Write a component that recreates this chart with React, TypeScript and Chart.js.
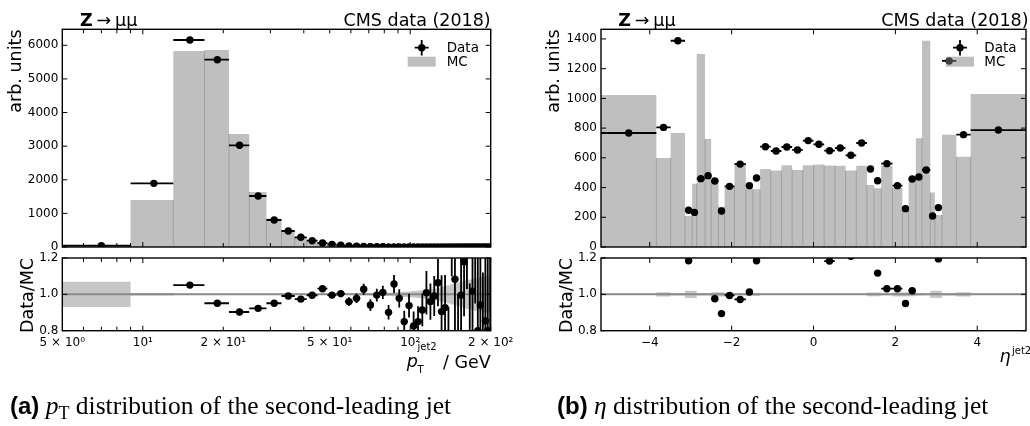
import React, { useEffect, useRef } from "react";
import { Chart, registerables } from "chart.js";

Chart.register(...registerables);

const PAGE_W = 1030;
const PAGE_H = 426;
const FONT = "DejaVu Sans";

// ---------------- (a) pT of the second-leading jet ----------------
const PT_EDGES = [5, 9, 13, 17, 21, 25, 29, 33, 37, 41, 45, 49, 53, 57, 61, 65, 69, 73, 77, 81, 85, 89, 93, 97, 101, 105, 109, 113, 117, 121, 125, 129, 133, 137, 141, 145, 149, 153, 157, 161, 165, 169, 173, 177, 181, 185, 189, 193, 197, 201];
const PT_DATA = [39, 1894, 6157, 5572, 3025, 1517, 803, 476, 288, 188, 119, 79, 50, 34, 24, 17.5, 12.5, 9.2, 6.8, 5.0, 3.8, 2.9, 2.2, 1.7, 1.35, 1.05, 0.85, 0.68, 0.55, 0.45, 0.37, 0.3, 0.25, 0.21, 0.18, 0.15, 0.13, 0.11, 0.095, 0.08, 0.07, 0.06, 0.05, 0.045, 0.04, 0.035, 0.03, 0.027, 0.024];
const PT_MC = [28, 1398, 5830, 5860, 3361, 1636, 844, 480, 296, 189, 115, 79, 50, 35, 24.5, 17, 13.3, 9.2, 6.7, 5.5, 3.6, 3.0, 2.6, 1.8, 1.6, 1.2, 0.93, 0.67, 0.57, 0.45, 0.35, 0.33, 0.27, 0.3, 0.14, 0.12, 0.12, 0.17, 0.095, 0.068, 0.05, 0.09, 0.049, 0.032, 0.05, 0.037, 0.04, 0.032, 0.03];
const PT_RATIO = [null, null, 1.051, 0.951, 0.903, 0.923, 0.951, 0.991, 0.974, 0.995, 1.031, 0.996, 1.004, 0.96, 0.978, 1.028, 0.941, 0.996, 1.011, 0.901, 1.057, 0.978, 0.85, 0.938, 0.826, 0.85, 0.914, 1.009, 0.96, 0.991, 1.064, 0.905, 0.927, 0.68, 1.32, 1.083, 0.7, 0.996, 1.18, 1.38, 0.66, 1.018, 1.35, 0.8, 0.941, 0.62, 0.853, 0.8, 1.4];
const PT_RATIO_ERR = [0, 0, 0.004, 0.004, 0.005, 0.006, 0.007, 0.009, 0.011, 0.013, 0.015, 0.017, 0.02, 0.024, 0.026, 0.03, 0.032, 0.035, 0.037, 0.04, 0.05, 0.05, 0.06, 0.065, 0.08, 0.085, 0.09, 0.12, 0.1, 0.11, 0.13, 0.2, 0.18, 0.25, 0.22, 0.3, 0.3, 0.35, 0.3, 0.35, 0.4, 0.45, 0.4, 0.5, 0.5, 0.5, 0.6, 0.6, 0.7];
const PT_MC_UNC = [0.07, 0.007, 0.003, 0.003, 0.003, 0.003, 0.003, 0.003, 0.003, 0.003, 0.003, 0.003, 0.003, 0.004, 0.005, 0.005, 0.006, 0.007, 0.008, 0.009, 0.01, 0.012, 0.014, 0.016, 0.018, 0.02, 0.022, 0.025, 0.028, 0.03, 0.035, 0.04, 0.045, 0.05, 0.055, 0.06, 0.065, 0.07, 0.075, 0.08, 0.08, 0.085, 0.09, 0.09, 0.095, 0.1, 0.1, 0.1, 0.1];
const PT_TICKS = [5, 10, 20, 50, 100, 200];
const PT_TICK_LABELS = ["5 × 10⁰", "10¹", "2 × 10¹", "5 × 10¹", "10²", "2 × 10²"];
const PT_MAJOR = [10, 100];
const PT_MINOR = [6, 7, 8, 9, 20, 30, 40, 50, 60, 70, 80, 90, 200];
const PT_Y_TICKS = [0, 1000, 2000, 3000, 4000, 5000, 6000];

// ---------------- (b) eta of the second-leading jet ----------------
const ETA_EDGES = [-5.191, -3.839, -3.489, -3.139, -2.964, -2.853, -2.65, -2.5, -2.322, -2.172, -1.93, -1.653, -1.479, -1.305, -1.044, -0.783, -0.522, -0.261, 0, 0.261, 0.522, 0.783, 1.044, 1.305, 1.479, 1.653, 1.93, 2.172, 2.322, 2.5, 2.65, 2.853, 2.964, 3.139, 3.489, 3.839, 5.191];
const ETA_DATA = [767, 805, 1388, 247, 233, 460, 480, 444, 242, 408, 558, 413, 464, 675, 646, 673, 653, 716, 691, 648, 666, 617, 700, 525, 446, 561, 413, 258, 458, 471, 518, 209, 265, 1252, 756, 787];
const ETA_MC = [1023, 599, 767, 209, 426, 1299, 727, 445, 271, 406, 562, 392, 388, 525, 514, 550, 518, 550, 556, 548, 546, 514, 546, 417, 395, 547, 400, 254, 451, 731, 1388, 366, 215, 756, 608, 1030];
const ETA_RATIO = [null, null, null, 1.185, null, null, null, 0.976, 0.894, 0.994, 0.972, 1.013, 1.185, null, null, null, null, null, null, 1.183, null, 1.21, null, null, 1.117, 1.031, 1.031, 0.95, 1.02, null, null, null, 1.195, null, null, null];
const ETA_RATIO_ERR = [0.006, 0.006, 0.006, 0.006, 0.006, 0.006, 0.006, 0.006, 0.006, 0.006, 0.006, 0.006, 0.006, 0.006, 0.006, 0.006, 0.006, 0.006, 0.006, 0.006, 0.006, 0.006, 0.006, 0.006, 0.006, 0.006, 0.006, 0.006, 0.006, 0.006, 0.006, 0.006, 0.006, 0.006, 0.006, 0.006];
const ETA_MC_UNC = [0.004, 0.012, 0.006, 0.02, 0.02, 0.006, 0.006, 0.012, 0.012, 0.006, 0.005, 0.008, 0.008, 0.004, 0.004, 0.004, 0.004, 0.004, 0.004, 0.004, 0.004, 0.004, 0.004, 0.01, 0.01, 0.005, 0.012, 0.012, 0.01, 0.006, 0.005, 0.02, 0.02, 0.006, 0.012, 0.004];
const ETA_TICKS = [-4, -2, 0, 2, 4];
const ETA_TICK_LABELS = ["−4", "−2", "0", "2", "4"];
const ETA_Y_TICKS = [0, 200, 400, 600, 800, 1000, 1200, 1400];

const RATIO_TICKS = [0.8, 1.0, 1.2];
const RATIO_LABELS = ["0.8", "1.0", "1.2"];

const MC_FILL = "rgba(128,128,128,0.5)";
const BAND_FILL = "rgba(128,128,128,0.45)";
const EDGE_LINE = "rgba(90,90,90,0.3)";

// ---------------- helpers ----------------
type ErrBar = { xl: number; xh: number; y: number | null; e: number };

function binCenters(edges: number[]) {
  return edges.slice(0, -1).map((e, i) => (e + edges[i + 1]) / 2);
}
function stepPoints(edges: number[], vals: number[]) {
  return edges.map((e, i) => ({ x: e, y: vals[Math.min(i, vals.length - 1)] }));
}
function errBars(edges: number[], vals: (number | null)[], errs: number[] | null): ErrBar[] {
  return vals.map((v, i) => ({ xl: edges[i], xh: edges[i + 1], y: v, e: errs ? errs[i] : 0 }));
}
function pointData(edges: number[], vals: (number | null)[]) {
  const c = binCenters(edges);
  return vals.map((v, i) => ({ x: c[i], y: v }));
}

function txt(ctx: CanvasRenderingContext2D, s: string, x: number, y: number, size: number, o: any = {}) {
  ctx.save();
  ctx.font = `${o.italic ? "italic " : ""}${o.bold ? "bold " : ""}${size}px "${FONT}"`;
  ctx.fillStyle = "#000";
  ctx.textAlign = o.align || "left";
  ctx.textBaseline = "alphabetic";
  ctx.translate(x, y);
  if (o.rot) ctx.rotate(-Math.PI / 2);
  ctx.fillText(s, 0, 0);
  ctx.restore();
}

function drawEdgeLines(chart: any, edges: number[], vals: number[]) {
  const { ctx, chartArea: a } = chart;
  const xs = chart.scales.x;
  const ys = chart.scales.y;
  ctx.save();
  ctx.beginPath();
  ctx.rect(a.left, a.top, a.right - a.left, a.bottom - a.top);
  ctx.clip();
  ctx.strokeStyle = EDGE_LINE;
  ctx.lineWidth = 1;
  ctx.beginPath();
  for (let i = 1; i < vals.length; i++) {
    const h = Math.min(vals[i - 1], vals[i]);
    const px = xs.getPixelForValue(edges[i]);
    ctx.moveTo(px, ys.getPixelForValue(0));
    ctx.lineTo(px, ys.getPixelForValue(h));
  }
  ctx.stroke();
  ctx.restore();
}

function drawErrBars(chart: any, bars: ErrBar[]) {
  const { ctx, chartArea: a } = chart;
  const xs = chart.scales.x;
  const ys = chart.scales.y;
  ctx.save();
  ctx.beginPath();
  ctx.rect(a.left, a.top, a.right - a.left, a.bottom - a.top);
  ctx.clip();
  ctx.strokeStyle = "#000";
  ctx.lineWidth = 1.8;
  ctx.beginPath();
  for (const b of bars) {
    if (b.y === null || b.y === undefined) continue;
    const py = ys.getPixelForValue(b.y);
    ctx.moveTo(xs.getPixelForValue(b.xl), py);
    ctx.lineTo(xs.getPixelForValue(b.xh), py);
    if (b.e > 0) {
      const px = xs.getPixelForValue((b.xl + b.xh) / 2);
      ctx.moveTo(px, ys.getPixelForValue(b.y - b.e));
      ctx.lineTo(px, ys.getPixelForValue(b.y + b.e));
    }
  }
  ctx.stroke();
  ctx.restore();
}

function drawFrame(chart: any, xMajor: number[], xMinor: number[], yMajor: number[]) {
  const { ctx, chartArea: a } = chart;
  const xs = chart.scales.x;
  const ys = chart.scales.y;
  ctx.save();
  ctx.strokeStyle = "#000";
  ctx.lineWidth = 1;
  ctx.beginPath();
  const xt = (v: number, len: number) => {
    const p = xs.getPixelForValue(v);
    if (p < a.left - 0.5 || p > a.right + 0.5) return;
    ctx.moveTo(p, a.bottom);
    ctx.lineTo(p, a.bottom - len);
    ctx.moveTo(p, a.top);
    ctx.lineTo(p, a.top + len);
  };
  const yt = (v: number, len: number) => {
    const p = ys.getPixelForValue(v);
    ctx.moveTo(a.left, p);
    ctx.lineTo(a.left + len, p);
    ctx.moveTo(a.right, p);
    ctx.lineTo(a.right - len, p);
  };
  xMajor.forEach((v) => xt(v, 5));
  xMinor.forEach((v) => xt(v, 4));
  yMajor.forEach((v) => yt(v, 5));
  ctx.stroke();
  ctx.lineWidth = 1.4;
  ctx.strokeRect(a.left, a.top, a.right - a.left, a.bottom - a.top);
  ctx.restore();
}

function drawLegend(ctx: CanvasRenderingContext2D, cx: number, tx: number) {
  ctx.save();
  ctx.strokeStyle = "#000";
  ctx.lineWidth = 1.8;
  ctx.beginPath();
  ctx.moveTo(cx, 40);
  ctx.lineTo(cx, 55.5);
  ctx.moveTo(cx - 7, 47.7);
  ctx.lineTo(cx + 7, 47.7);
  ctx.stroke();
  ctx.fillStyle = "#000";
  ctx.beginPath();
  ctx.arc(cx, 47.7, 3.7, 0, Math.PI * 2);
  ctx.fill();
  ctx.fillStyle = MC_FILL;
  ctx.fillRect(cx - 14, 56.7, 28, 10);
  ctx.restore();
  txt(ctx, "Data", tx, 52, 13.5);
  txt(ctx, "MC", tx, 66.3, 13.5);
}

type Area = { left: number; top: number; right: number; bottom: number };

function makePanel(canvas: HTMLCanvasElement, p: any): Chart {
  const a: Area = p.area;
  const xH = p.xLabels ? 30 : 0;
  return new Chart(canvas, {
    type: "scatter",
    data: { datasets: p.datasets },
    options: {
      animation: false,
      responsive: false,
      events: [],
      layout: { padding: { left: 0, top: a.top, right: PAGE_W - a.right, bottom: PAGE_H - a.bottom - xH } },
      plugins: { legend: { display: false }, tooltip: { enabled: false } },
      scales: {
        x: {
          type: p.xType,
          min: p.xMin,
          max: p.xMax,
          bounds: "data",
          display: !!p.xLabels,
          grid: { display: false, drawTicks: false },
          border: { display: false },
          afterBuildTicks: (s: any) => {
            s.ticks = p.xTicks.map((v: number) => ({ value: v }));
          },
          afterFit: (s: any) => {
            s.height = xH;
          },
          ticks: {
            autoSkip: false,
            maxRotation: 0,
            minRotation: 0,
            padding: 5,
            color: "#000",
            font: { family: FONT, size: 12 },
            callback: (_v: any, i: number) => (p.xLabels ? p.xLabels[i] : ""),
          },
        },
        y: {
          type: "linear",
          min: p.yMin,
          max: p.yMax,
          bounds: "data",
          grid: { display: false, drawTicks: false },
          border: { display: false },
          afterBuildTicks: (s: any) => {
            s.ticks = p.yTicks.map((v: number) => ({ value: v }));
          },
          afterFit: (s: any) => {
            s.width = a.left;
          },
          ticks: {
            padding: 4,
            color: "#000",
            font: { family: FONT, size: 12 },
            callback: (_v: any, i: number) => p.yLabels[i],
          },
        },
      },
    },
    plugins: [
      {
        id: "deco",
        beforeDatasetDraw(chart: any, args: any) {
          if (args.index === 0) {
            if (p.edgeLines) drawEdgeLines(chart, p.edgeLines.edges, p.edgeLines.vals);
            drawErrBars(chart, p.errs);
          }
        },
        afterDraw(chart: any) {
          drawFrame(chart, p.xMajor, p.xMinor, p.yTicks);
          p.extra(chart.ctx);
        },
      },
    ],
  } as any);
}

function pointsDataset(edges: number[], vals: (number | null)[]) {
  return {
    data: pointData(edges, vals),
    pointRadius: 3.7,
    pointBackgroundColor: "#000",
    pointBorderWidth: 0,
    showLine: false,
    clip: 0,
  };
}
function histDataset(edges: number[], vals: number[]) {
  return {
    type: "line",
    data: stepPoints(edges, vals),
    stepped: true,
    fill: "origin",
    backgroundColor: MC_FILL,
    borderWidth: 0,
    pointRadius: 0,
  };
}
function ratioDatasets(edges: number[], ratio: (number | null)[], unc: number[]) {
  const lo = edges[0];
  const hi = edges[edges.length - 1];
  return [
    pointsDataset(edges, ratio),
    {
      type: "line",
      data: [
        { x: lo, y: 1 },
        { x: hi, y: 1 },
      ],
      borderColor: "#8a8a8a",
      borderWidth: 2,
      pointRadius: 0,
      fill: false,
    },
    {
      type: "line",
      data: stepPoints(edges, unc.map((u) => 1 + u)),
      stepped: true,
      borderWidth: 0,
      pointRadius: 0,
      fill: false,
    },
    {
      type: "line",
      data: stepPoints(edges, unc.map((u) => 1 - u)),
      stepped: true,
      borderWidth: 0,
      pointRadius: 0,
      fill: "-1",
      backgroundColor: BAND_FILL,
    },
  ];
}

const LT: Area = { left: 62.3, top: 29.3, right: 490.7, bottom: 247 };
const LR: Area = { left: 62.3, top: 258, right: 490.7, bottom: 330.7 };
const RT: Area = { left: 601, top: 29.3, right: 1028.5, bottom: 247 };
const RR: Area = { left: 601, top: 258, right: 1028.5, bottom: 330.7 };

export default function App() {
  const r1 = useRef<HTMLCanvasElement>(null);
  const r2 = useRef<HTMLCanvasElement>(null);
  const r3 = useRef<HTMLCanvasElement>(null);
  const r4 = useRef<HTMLCanvasElement>(null);

  useEffect(() => {
    Chart.defaults.font.family = FONT;
    const charts: Chart[] = [];
    // (a) top
    charts.push(
      makePanel(r1.current!, {
        area: LT,
        xType: "logarithmic",
        xMin: 5,
        xMax: 200,
        xTicks: PT_TICKS,
        xLabels: null,
        xMajor: PT_MAJOR,
        xMinor: PT_MINOR,
        yMin: 0,
        yMax: 6476,
        yTicks: PT_Y_TICKS,
        yLabels: PT_Y_TICKS.map(String),
        datasets: [pointsDataset(PT_EDGES, PT_DATA), histDataset(PT_EDGES, PT_MC)],
        errs: errBars(PT_EDGES, PT_DATA, null),
        edgeLines: { edges: PT_EDGES, vals: PT_MC },
        extra: (ctx: CanvasRenderingContext2D) => {
          txt(ctx, "Z", 80, 26, 17.5, { bold: true });
          txt(ctx, "→", 96.5, 26, 17.5);
          txt(ctx, "μμ", 115, 26, 17.5);
          txt(ctx, "CMS data (2018)", LT.right, 26, 17.5, { align: "right" });
          txt(ctx, "arb. units", 20.5, 29.5, 17.5, { align: "right", rot: true });
          drawLegend(ctx, 421.7, 446.7);
        },
      })
    );
    // (a) ratio
    charts.push(
      makePanel(r2.current!, {
        area: LR,
        xType: "logarithmic",
        xMin: 5,
        xMax: 200,
        xTicks: PT_TICKS,
        xLabels: PT_TICK_LABELS,
        xMajor: PT_MAJOR,
        xMinor: PT_MINOR,
        yMin: 0.8,
        yMax: 1.2,
        yTicks: RATIO_TICKS,
        yLabels: RATIO_LABELS,
        datasets: ratioDatasets(PT_EDGES, PT_RATIO, PT_MC_UNC),
        errs: errBars(PT_EDGES, PT_RATIO, PT_RATIO_ERR),
        extra: (ctx: CanvasRenderingContext2D) => {
          txt(ctx, "Data/MC", 33, 295.5, 17.5, { align: "center", rot: true });
          txt(ctx, "p", 406.7, 367, 17.5, { italic: true });
          txt(ctx, "jet2", 417.5, 350, 10);
          txt(ctx, "T", 417.5, 373, 10);
          txt(ctx, "/ GeV", LR.right, 368, 17.5, { align: "right" });
        },
      })
    );
    // (b) top
    charts.push(
      makePanel(r3.current!, {
        area: RT,
        xType: "linear",
        xMin: -5.191,
        xMax: 5.191,
        xTicks: ETA_TICKS,
        xLabels: null,
        xMajor: ETA_TICKS,
        xMinor: [],
        yMin: 0,
        yMax: 1465,
        yTicks: ETA_Y_TICKS,
        yLabels: ETA_Y_TICKS.map(String),
        datasets: [pointsDataset(ETA_EDGES, ETA_DATA), histDataset(ETA_EDGES, ETA_MC)],
        errs: errBars(ETA_EDGES, ETA_DATA, null),
        edgeLines: { edges: ETA_EDGES, vals: ETA_MC },
        extra: (ctx: CanvasRenderingContext2D) => {
          txt(ctx, "Z", 618.3, 26, 17.5, { bold: true });
          txt(ctx, "→", 634.8, 26, 17.5);
          txt(ctx, "μμ", 653.3, 26, 17.5);
          txt(ctx, "CMS data (2018)", RT.right, 26, 17.5, { align: "right" });
          txt(ctx, "arb. units", 558.5, 29.5, 17.5, { align: "right", rot: true });
          drawLegend(ctx, 960, 984.3);
        },
      })
    );
    // (b) ratio
    charts.push(
      makePanel(r4.current!, {
        area: RR,
        xType: "linear",
        xMin: -5.191,
        xMax: 5.191,
        xTicks: ETA_TICKS,
        xLabels: ETA_TICK_LABELS,
        xMajor: ETA_TICKS,
        xMinor: [],
        yMin: 0.8,
        yMax: 1.2,
        yTicks: RATIO_TICKS,
        yLabels: RATIO_LABELS,
        datasets: ratioDatasets(ETA_EDGES, ETA_RATIO, ETA_MC_UNC),
        errs: errBars(ETA_EDGES, ETA_RATIO, ETA_RATIO_ERR),
        extra: (ctx: CanvasRenderingContext2D) => {
          txt(ctx, "Data/MC", 571.5, 295.5, 17.5, { align: "center", rot: true });
          txt(ctx, "η", 999.5, 362, 17.5, { italic: true });
          txt(ctx, "jet2", 1012, 354, 10);
        },
      })
    );
    return () => charts.forEach((c) => c.destroy());
  }, []);

  const cv: React.CSSProperties = { position: "absolute", left: 0, top: 0 };
  const cap: React.CSSProperties = {
    position: "absolute",
    top: 391,
    fontFamily: '"Liberation Serif", serif',
    fontSize: 25.5,
    lineHeight: "30px",
    whiteSpace: "nowrap",
    color: "#000",
  };
  const lab: React.CSSProperties = { fontFamily: '"Liberation Sans", sans-serif', fontWeight: "bold", fontSize: 24 };
  return (
    <div style={{ position: "fixed", left: 0, top: 0, width: PAGE_W, height: PAGE_H, background: "#fff", overflow: "hidden" }}>
      <canvas ref={r1} width={PAGE_W} height={PAGE_H} style={cv} />
      <canvas ref={r2} width={PAGE_W} height={PAGE_H} style={cv} />
      <canvas ref={r3} width={PAGE_W} height={PAGE_H} style={cv} />
      <canvas ref={r4} width={PAGE_W} height={PAGE_H} style={cv} />
      <div style={{ ...cap, left: 10 }}>
        <span style={lab}>(a)</span> <i>p</i>
        <span style={{ fontSize: 18, position: "relative", top: 5 }}>T</span> distribution of the second-leading jet
      </div>
      <div style={{ ...cap, left: 557 }}>
        <span style={lab}>(b)</span> <i>η</i> distribution of the second-leading jet
      </div>
    </div>
  );
}
